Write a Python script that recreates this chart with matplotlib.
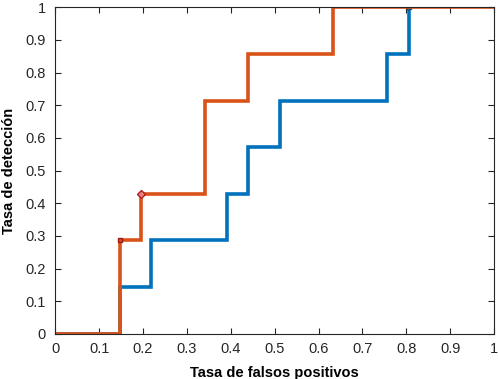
import matplotlib.pyplot as plt
import matplotlib

plt.rcParams.update({'font.family': ['Liberation Sans', 'DejaVu Sans'], 'font.size': 10})

# step curves (x = false positive rate, y = detection rate)
fpr_blue = [0, 0.147, 0.147, 0.219, 0.219, 0.391, 0.391, 0.439, 0.439, 0.512, 0.512, 0.756, 0.756, 0.806, 0.806]
tpr_blue = [0, 0, 0.143, 0.143, 0.286, 0.286, 0.429, 0.429, 0.571, 0.571, 0.714, 0.714, 0.857, 0.857, 1.0]

fpr_red = [0, 0.147, 0.147, 0.196, 0.196, 0.341, 0.341, 0.439, 0.439, 0.633, 0.633, 1.0]
tpr_red = [0, 0, 0.286, 0.286, 0.429, 0.429, 0.714, 0.714, 0.857, 0.857, 1.0, 1.0]

blue = '#0072BD'
red = '#D95319'

fig = plt.figure(figsize=(4.98, 3.79), dpi=100)
ax = fig.add_axes([0.111, 0.119, 0.881, 0.862])

ax.plot(fpr_blue, tpr_blue, color=blue, linewidth=2.6, solid_joinstyle='miter')
ax.plot([fpr_blue[-1]], [tpr_blue[-1]], marker='s', markersize=3, color='#1f4e79', linestyle='none')
ax.plot(fpr_red, tpr_red, color=red, linewidth=2.6, solid_joinstyle='miter')
ax.plot([0.147], [0.286], marker='s', markersize=3.5, markerfacecolor=red, markeredgecolor='#a01818', linestyle='none')
ax.plot([0.196], [0.429], marker='D', markersize=4, markerfacecolor='#e88080', markeredgecolor='#b02020', linestyle='none')

ax.set_xlim(0, 1)
ax.set_ylim(0, 1)
ticks = [0, 0.1, 0.2, 0.3, 0.4, 0.5, 0.6, 0.7, 0.8, 0.9, 1]
labels = ['0', '0.1', '0.2', '0.3', '0.4', '0.5', '0.6', '0.7', '0.8', '0.9', '1']
ax.set_xticks(ticks, labels)
ax.set_yticks(ticks, labels)
ax.tick_params(axis='both', direction='in', length=4, top=True, right=True, labelsize=10.5, colors='#262626')
ax.tick_params(axis='x', pad=6)
ax.tick_params(axis='y', pad=7)
for s in ax.spines.values():
    s.set_color('#262626')
    s.set_linewidth(0.8)

ax.set_xlabel('Tasa de falsos positivos', fontweight='bold', fontsize=10.5, labelpad=7)
ax.set_ylabel('Tasa de detección', fontweight='bold', fontsize=10.5, labelpad=6.5)

fig.savefig('out.png', dpi=100)
